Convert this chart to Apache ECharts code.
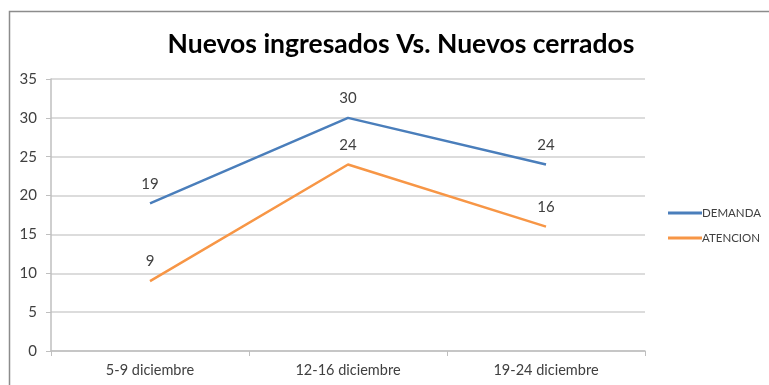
<!DOCTYPE html>
<html>
<head>
<meta charset="utf-8">
<script src="https://cdn.jsdelivr.net/npm/echarts@6/dist/echarts.min.js"></script>
<style>
  html, body { margin: 0; padding: 0; background: #fff; }
  #chart { width: 769px; height: 385px; }
</style>
</head>
<body>
<div id="chart"></div>
<script>
// Weekly periods on the x axis
const categories = ['5-9 diciembre', '12-16 diciembre', '19-24 diciembre'];
// New cases received vs. cases closed
const demanda = [19, 30, 24];
const atencion = [9, 24, 16];
const yTicks = [0, 5, 10, 15, 20, 25, 30, 35];

const FONT = 'Lato';
const chart = echarts.init(document.getElementById('chart'));

const labelStyle = {
  show: true,
  position: 'top',
  distance: 12,
  color: '#404040',
  fontSize: 15,
  fontFamily: FONT
};

chart.setOption({
  animation: false,
  backgroundColor: '#ffffff',
  graphic: [{
    type: 'rect',
    shape: { x: 9.5, y: 11.5, width: 800, height: 400 },
    style: { fill: 'none', stroke: '#8c8c8c', lineWidth: 1.5 },
    silent: true
  }],
  title: {
    text: 'Nuevos ingresados Vs. Nuevos cerrados',
    left: 396,
    textAlign: 'center',
    top: 26,
    textStyle: { fontFamily: FONT, fontWeight: 'bold', fontSize: 26.5, color: '#000' }
  },
  legend: {
    orient: 'vertical',
    left: 663,
    top: 202,
    itemWidth: 34,
    itemHeight: 3,
    itemGap: 13,
    icon: 'rect',
    textStyle: { fontFamily: FONT, fontSize: 11.5, color: '#404040', padding: [0, 0, 0, -5] },
    data: ['DEMANDA', 'ATENCION']
  },
  grid: { left: 51, right: 124, top: 79, bottom: 34, containLabel: false },
  xAxis: {
    type: 'category',
    data: categories,
    boundaryGap: true,
    axisLine: { lineStyle: { color: '#bfbfbf', width: 1.5 } },
    axisTick: { show: true, length: 5, lineStyle: { color: '#bfbfbf' } },
    axisLabel: { fontFamily: FONT, fontSize: 14.5, color: '#404040', margin: 12 }
  },
  yAxis: {
    type: 'value',
    min: yTicks[0],
    max: yTicks[yTicks.length - 1],
    interval: 5,
    axisLine: { show: true, lineStyle: { color: '#bfbfbf', width: 1.5 } },
    axisTick: { show: true, length: 5, inside: false, lineStyle: { color: '#bfbfbf' } },
    axisLabel: { fontFamily: FONT, fontSize: 15, color: '#404040', margin: 14 },
    splitLine: { lineStyle: { color: '#d0d0d0', width: 1.5 } }
  },
  series: [
    {
      name: 'DEMANDA',
      type: 'line',
      data: demanda,
      symbol: 'circle',
      symbolSize: 0,
      showSymbol: true,
      color: '#4a7ebb',
      lineStyle: { width: 2.5, color: '#4a7ebb' },
      label: labelStyle
    },
    {
      name: 'ATENCION',
      type: 'line',
      data: atencion,
      symbol: 'circle',
      symbolSize: 0,
      showSymbol: true,
      color: '#f79646',
      lineStyle: { width: 2.5, color: '#f79646' },
      label: labelStyle
    }
  ]
});
</script>
</body>
</html>
